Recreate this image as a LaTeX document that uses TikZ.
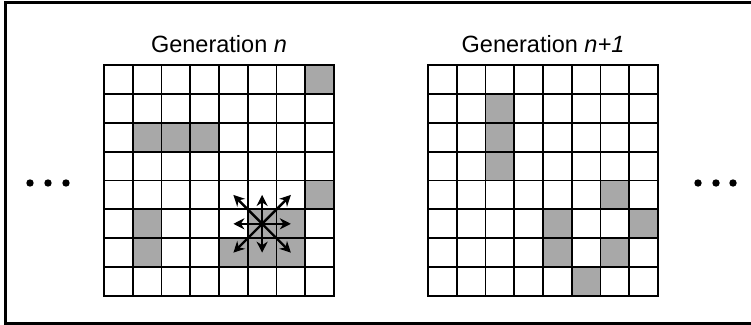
\documentclass[tikz,border=0pt]{standalone}
\usepackage{fontspec}
\setmainfont{Liberation Sans}
\usetikzlibrary{arrows.meta}

\begin{document}
\begin{tikzpicture}[x=1pt, y=-1pt, >={Stealth[length=11pt, width=11pt, inset=3.5pt]},
    every node/.style={font=\fontsize{23.5}{28}\selectfont, inner sep=0pt}]
      \colorlet{cellfill}{black!34} \colorlet{gridcol}{black}
      \tikzset{gridline/.style={draw=gridcol, line width=1.8pt, line cap=rect},
        cell/.style={fill=cellfill},
        move/.style={->, line width=2.4pt}}

      \useasboundingbox (0,0) rectangle (751,324);
      \draw[line width=3pt] (5,2) rectangle (752,323);

      \begin{scope}[shift={(104,65)}, x=28.75pt, y=-28.875pt]
        \foreach \r/\c in {0/7, 2/1, 2/2, 2/3, 4/7, 5/1, 6/1, 5/5, 5/6, 6/4, 6/5, 6/6}
          \fill[cell] (\c,\r) rectangle ++(1,1);
        \foreach \i in {0,...,8} {
          \draw[gridline] (\i,0) -- (\i,8);
          \draw[gridline] (0,\i) -- (8,\i);
        }
        \node[anchor=base] (genL) at (4,-0.45) {Generation \textit{n}};
        \foreach \r in {4,5,6} {
          \foreach \c in {4,5,6}
            \coordinate (L-\r-\c) at (\c+0.5,\r+0.5);
        }
        \foreach \r/\c in {4/4, 4/5, 4/6, 5/4, 5/6, 6/4, 6/5, 6/6}
          \draw[move] (L-5-5) -- (L-\r-\c);
      \end{scope}

      \begin{scope}[shift={(428,65)}, x=28.75pt, y=-28.875pt]
        \foreach \r/\c in {1/2, 2/2, 3/2, 4/6, 5/4, 5/7, 6/4, 6/6, 7/5}
          \fill[cell] (\c,\r) rectangle ++(1,1);
        \foreach \i in {0,...,8} {
          \draw[gridline] (\i,0) -- (\i,8);
          \draw[gridline] (0,\i) -- (8,\i);
        }
        \node[anchor=base] (genR) at (4,-0.45) {Generation \textit{n+1}};
      \end{scope}

      \foreach \x in {30, 48, 66, 698, 716, 733}
        \fill (\x,183) circle (3.7pt);
    \end{tikzpicture}
\end{document}
